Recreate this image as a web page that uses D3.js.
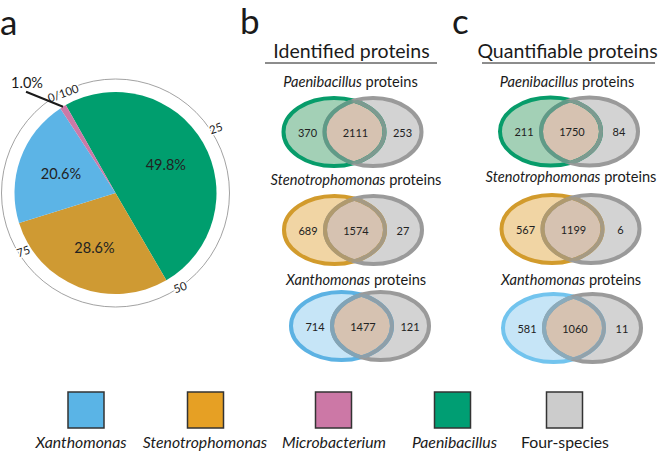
<!DOCTYPE html>
<html><head><meta charset="utf-8">
<script src="https://cdn.jsdelivr.net/npm/d3@7"></script>
<style>body{margin:0;background:#fff} svg{display:block;font-family:Lato,"Open Sans",sans-serif}</style>
</head><body>
<svg id="chart" width="660" height="453"></svg>
<script>
// ---------- data ----------
const pieSpecies = ["Paenibacillus", "Stenotrophomonas", "Xanthomonas", "Microbacterium"];
const pieValues = [49.8, 28.6, 20.6, 1.0];
const pieLabels = ["49.8%", "28.6%", "20.6%", "1.0%"];
const pieColors = ["#009e6e", "#cf9a33", "#5cb4e6", "#cc79a7"];
const ringTicks = [0, 25, 50, 75];
const ringTickLabels = ["0/100", "25", "50", "75"];

const vennSpecies = ["Paenibacillus", "Stenotrophomonas", "Xanthomonas"];
const identifiedOnly = [370, 689, 714];
const identifiedShared = [2111, 1574, 1477];
const identifiedFour = [253, 27, 121];
const quantOnly = [211, 567, 581];
const quantShared = [1750, 1199, 1060];
const quantFour = [84, 6, 11];
const identifiedStroke = ["#079c6a", "#d29b2c", "#5cb2e3"];
const quantStroke = ["#079c6a", "#d29b2c", "#72c4ee"];
const vennFill = ["#a3d0b6", "#f1d5a4", "#c6e5f7"];

const legendNames = ["Xanthomonas", "Stenotrophomonas", "Microbacterium", "Paenibacillus", "Four-species"];
const legendColors = ["#5ab4e6", "#e6a024", "#cc78a6", "#009e73", "#cccccc"];
const legendItalic = [true, true, true, true, false];

// ---------- layout ----------
const svg = d3.select("#chart");
const pieC = [115.5, 193], pieR = 101, ringR = 114;
const startDeg = -29.5;
const start = startDeg * Math.PI / 180;
const ringLabelDeg = [1.8, -3.5, -5, -2.6];   // placement tweaks of the ring labels
const ringLabelR = [113, 119.5, 114, 109];
const ringLabelTilt = 10;

// panel letters
[["a", 0, 34.5], ["b", 240, 34], ["c", 452, 34]].forEach(([t, x, y]) =>
  svg.append("text").attr("x", x).attr("y", y).attr("font-size", 35).attr("fill", "#1a1a1a").text(t));

// ---------- pie ----------
const gp = svg.append("g").attr("transform", `translate(${pieC})`);
gp.append("circle").attr("r", ringR).attr("fill", "none").attr("stroke", "#8a8a8a").attr("stroke-width", 0.8);

const pie = d3.pie().sort(null).value(d => d).startAngle(start).endAngle(start + 2 * Math.PI);
const arcs = pie(pieValues);
const arc = d3.arc().innerRadius(0).outerRadius(pieR);
gp.selectAll("path.slice").data(arcs).join("path").attr("class", "slice")
  .attr("d", arc).attr("fill", (d, i) => pieColors[i]);

const labArc = d3.arc().innerRadius(58).outerRadius(58);
gp.selectAll("text.pl").data(arcs.slice(0, 3)).join("text").attr("class", "pl")
  .attr("transform", d => `translate(${labArc.centroid(d)})`)
  .attr("text-anchor", "middle").attr("dominant-baseline", "central")
  .attr("font-size", 14.5).attr("fill", "#222").text((d, i) => pieLabels[i]);

// ring tick labels
const ringScale = d3.scaleLinear().domain([0, 100]).range([0, 2 * Math.PI]);
const gr = gp.append("g").attr("transform", `rotate(${startDeg})`);
gr.selectAll("text.rt").data(ringTicks).join("text").attr("class", "rt")
  .attr("transform", (d, i) => {
    const a = ringScale(d) + ringLabelDeg[i] * Math.PI / 180, r = ringLabelR[i];
    return `translate(${r * Math.sin(a)},${-r * Math.cos(a)}) rotate(${ringLabelTilt})`;
  })
  .attr("text-anchor", "middle").attr("dominant-baseline", "central")
  .attr("font-size", 11.5).attr("fill", "#1a1a1a")
  .attr("stroke", "#fff").attr("stroke-width", 3).attr("paint-order", "stroke")
  .text((d, i) => ringTickLabels[i]);

// small-slice label with leader
const edgeArc = d3.arc().innerRadius(pieR).outerRadius(pieR);
const p0 = edgeArc.centroid(arcs[3]);
const p1 = [p0[0] - 37, p0[1] - 15];
gp.append("line").attr("x1", p0[0]).attr("y1", p0[1]).attr("x2", p1[0]).attr("y2", p1[1])
  .attr("stroke", "#1a1a1a").attr("stroke-width", 2);
gp.append("text").attr("x", p1[0] + 1).attr("y", p1[1] - 4).attr("text-anchor", "middle")
  .attr("font-size", 14.5).attr("fill", "#1a1a1a").text(pieLabels[3]);

// ---------- venns ----------
const overlapFill = "#d6c2b1", grayFill = "#d3d3d3", grayStroke = "#9a9a9a";
let clipId = 0;
function drawVenn(cx, cy, i, strokeCol, only, shared, four) {
  const g = svg.append("g");
  const Lx = cx - 19.5, Rx = cx + 19.5, rxL = 50.5, rxR = 48.5, ry = 34;
  const idL = "cl" + (clipId++), idR = "cr" + (clipId++);
  const defs = g.append("defs");
  defs.append("clipPath").attr("id", idL).append("ellipse").attr("cx", Lx).attr("cy", cy).attr("rx", rxL).attr("ry", ry);
  defs.append("clipPath").attr("id", idR).append("ellipse").attr("cx", Rx).attr("cy", cy).attr("rx", rxR).attr("ry", ry);
  const ell = (x, rx) => g.append("ellipse").attr("cx", x).attr("cy", cy).attr("rx", rx).attr("ry", ry);
  ell(Lx, rxL).attr("fill", vennFill[i]);
  ell(Rx, rxR).attr("fill", grayFill);
  ell(Rx, rxR).attr("fill", overlapFill).attr("clip-path", `url(#${idL})`);
  ell(Lx, rxL).attr("fill", "none").attr("stroke", strokeCol).attr("stroke-width", 4);
  ell(Rx, rxR).attr("fill", "none").attr("stroke", grayStroke).attr("stroke-width", 4);
  ell(Rx, rxR).attr("fill", "none").attr("stroke", d3.interpolateRgb(grayStroke, strokeCol)(0.4))
    .attr("stroke-width", 4).attr("clip-path", `url(#${idL})`);
  ell(Lx, rxL).attr("fill", "none").attr("stroke", d3.interpolateRgb(grayStroke, strokeCol)(0.2))
    .attr("stroke-width", 4).attr("clip-path", `url(#${idR})`);
  [[-46, only], [2, shared], [49, four]].forEach(([dx, v]) =>
    g.append("text").attr("x", cx + dx).attr("y", cy).attr("text-anchor", "middle")
      .attr("dominant-baseline", "central").attr("font-size", 11).attr("fill", "#222").text(v));
}
function subtitle(x, y, name) {
  const t = svg.append("text").attr("x", x).attr("y", y).attr("text-anchor", "middle")
    .attr("font-size", 14.6).attr("fill", "#1a1a1a");
  t.append("tspan").attr("font-style", "italic").text(name);
  t.append("tspan").text(" proteins");
}
function panel(title, tx, lineX, titlePos, centers, strokes, only, shared, four) {
  svg.append("text").attr("x", tx).attr("y", 57.5).attr("text-anchor", "middle")
    .attr("font-size", 19.5).attr("fill", "#1a1a1a").text(title);
  svg.append("line").attr("x1", lineX[0]).attr("x2", lineX[1]).attr("y1", 63).attr("y2", 63)
    .attr("stroke", "#1a1a1a").attr("stroke-width", 1);
  vennSpecies.forEach((s, i) => {
    subtitle(titlePos[i][0], titlePos[i][1], s);
    drawVenn(centers[i][0], centers[i][1], i, strokes[i], only[i], shared[i], four[i]);
  });
}
panel("Identified proteins", 351.5, [265, 437],
  [[350.5, 87], [356, 185], [356, 285]], [[353.5, 132], [354, 230], [361, 326]],
  identifiedStroke, identifiedOnly, identifiedShared, identifiedFour);
panel("Quantifiable proteins", 567.5, [482, 655],
  [[567, 87], [571, 182], [571, 285]], [[570, 131.5], [571.5, 229], [573, 328]],
  quantStroke, quantOnly, quantShared, quantFour);

// ---------- legend ----------
const legendX = [86, 205.5, 333.5, 452.5, 564.5];
const legendLabelX = [81, 205, 334, 454.5, 565];
const gl = svg.append("g");
legendNames.forEach((n, i) => {
  gl.append("rect").attr("x", legendX[i] - 18).attr("y", 392).attr("width", 36).attr("height", 36)
    .attr("fill", legendColors[i]).attr("stroke", "#333").attr("stroke-width", 1.5);
  gl.append("text").attr("x", legendLabelX[i]).attr("y", 448).attr("text-anchor", "middle")
    .attr("font-size", 15.8).attr("font-style", legendItalic[i] ? "italic" : "normal")
    .attr("fill", "#1a1a1a").text(n);
});
</script>
</body></html>
